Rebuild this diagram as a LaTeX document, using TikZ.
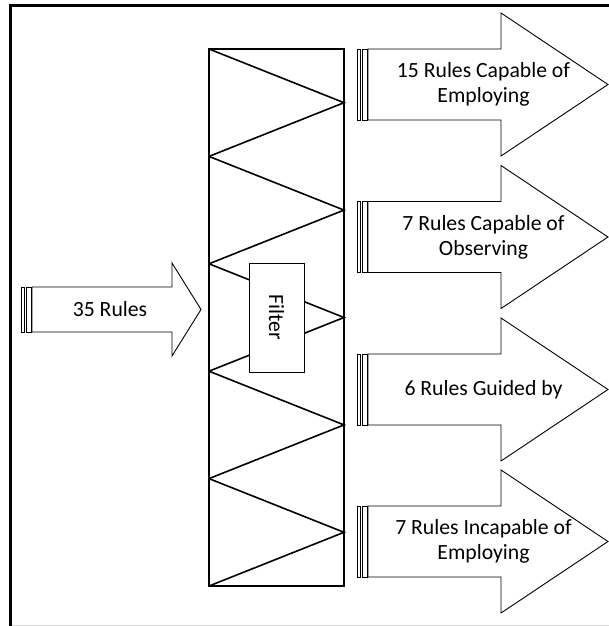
\documentclass[tikz,border=0pt]{standalone}
\usepackage{fontspec}
\setmainfont{Carlito}
\usetikzlibrary{positioning}
\begin{document}
\begin{tikzpicture}[x=1pt, y=-1pt,
    blockarrow/.style={draw=black, fill=white, line width=0.9pt, line join=miter},
    zigline/.style={line width=1.6pt, line join=miter},
    arrowtext/.style={font=\fontsize{21.7}{25}\selectfont, align=center}]
  \useasboundingbox (0,0) rectangle (609,626);
  % frame
  \draw[gray!30, line width=1pt] (10.5,625) -- (609,625);
  \draw[line width=3pt] (10.5,626) -- (10.5,5.5) -- (609,5.5);
  % filter column with zigzag
  \draw[zigline] (209,49) rectangle (344,586);
  \foreach \j in {0,...,4} {
    \draw[zigline] (209,49+107.4*\j) -- (344,102.7+107.4*\j) -- (209,156.4+107.4*\j);
  }
  \node[draw, fill=white, line width=0.9pt, minimum width=109pt, minimum height=55pt,
        inner sep=0pt, rotate=-90, arrowtext] (filter) at (276.5,317.5) {Filter};
  % input arrow
  \draw[blockarrow] (21,287) rectangle (24,332);
  \draw[blockarrow] (26,287) rectangle (31,332);
  \draw[blockarrow] (32,287) -- (172,287) -- (172,263) -- (201,309.5)
    -- (172,356) -- (172,332) -- (32,332) -- cycle;
  \node[arrowtext] (rules) at (110,309.5) {35 Rules};
  % output arrows
  \foreach \yc/\txt [count=\k] in {%
    84.5/{15 Rules Capable of\\Employing},
    237/{7 Rules Capable of\\Observing},
    389.5/{6 Rules Guided by},
    541.5/{7 Rules Incapable of\\Employing}%
  } {
    \draw[blockarrow] (357,\yc-35.5) rectangle (360,\yc+35.5);
    \draw[blockarrow] (362,\yc-35.5) rectangle (367,\yc+35.5);
    \draw[blockarrow] (368,\yc-35.5) -- (501,\yc-35.5) -- (501,\yc-71.5) -- (608,\yc)
      -- (501,\yc+71.5) -- (501,\yc+35.5) -- (368,\yc+35.5) -- cycle;
    \node[arrowtext] (out\k) at (483.5,\yc) {\txt};
  }
\end{tikzpicture}
\end{document}
